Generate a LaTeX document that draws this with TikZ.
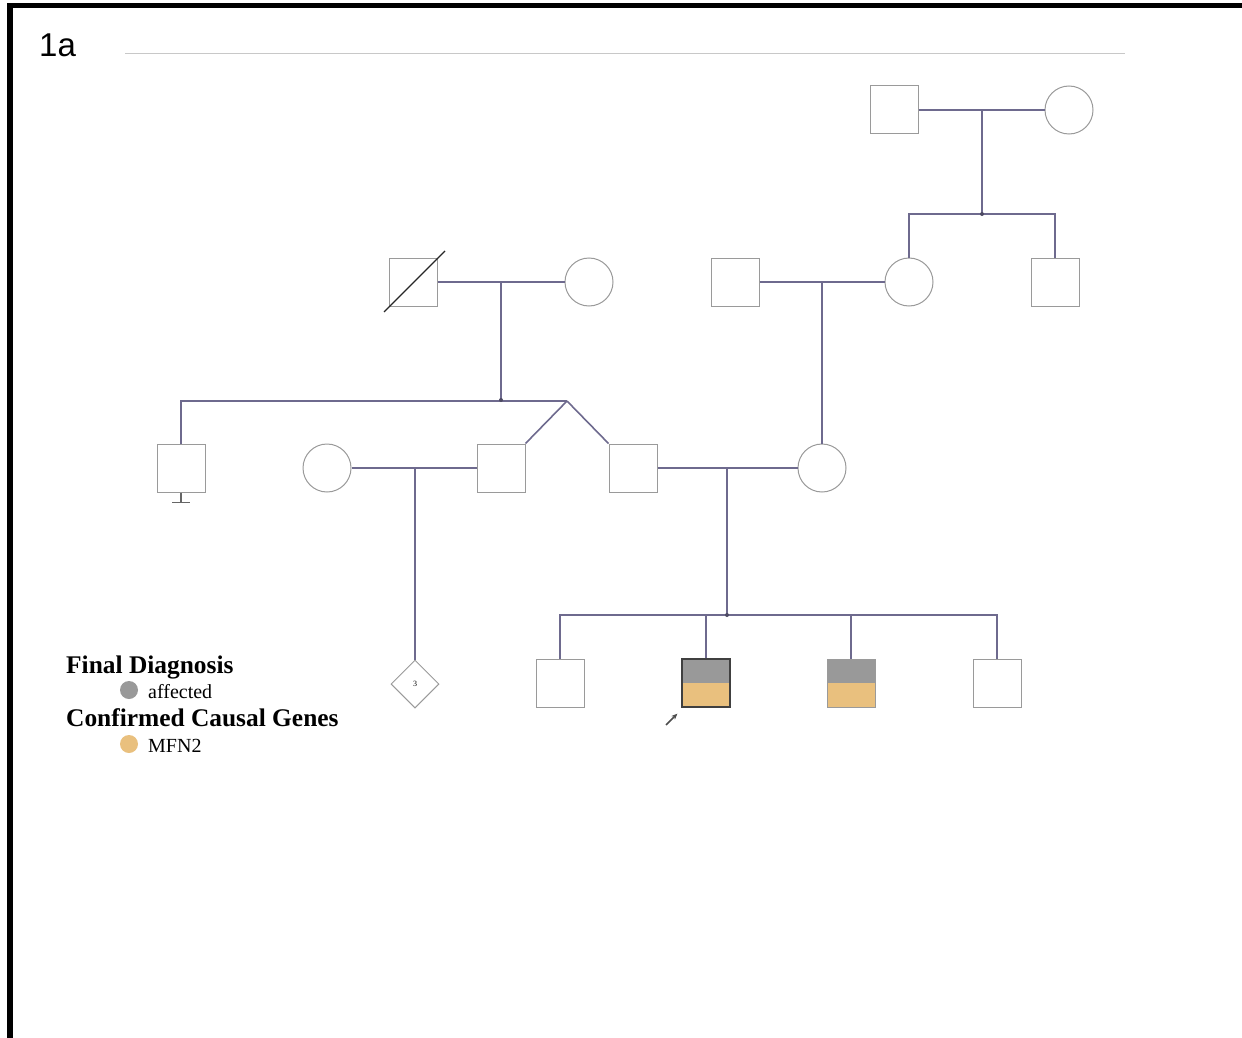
\documentclass[tikz,border=0pt]{standalone}
\usepackage{fontspec}
\setmainfont{Liberation Serif}
\newfontfamily\panelfont{Liberation Sans}
\usetikzlibrary{positioning,shapes.geometric,arrows.meta,calc}
\definecolor{linepurple}{HTML}{6E6A8E}
\definecolor{shapegray}{HTML}{9A9A9A}
\definecolor{affgray}{HTML}{999999}
\definecolor{mfnorange}{HTML}{E9C07E}
\definecolor{rulegray}{HTML}{C8C8C8}

\begin{document}
\begin{tikzpicture}[
    x=1pt, y=-1pt,
    male/.style={rectangle, draw=shapegray, line width=1pt, minimum size=48pt,
                 inner sep=0pt, fill=white},
    female/.style={circle, draw=shapegray, line width=1pt, minimum size=48pt,
                   inner sep=0pt, fill=white},
    unknown/.style={diamond, draw=shapegray, line width=1pt, minimum width=48pt,
                    minimum height=48pt, inner sep=0pt, fill=white,
                    font=\fontsize{8}{8}\selectfont},
    affected/.style={male, draw=black!75, line width=1.3pt,
                     path picture={
                       \fill[affgray] (path picture bounding box.north west)
                         rectangle (path picture bounding box.east);
                       \fill[mfnorange] (path picture bounding box.west)
                         rectangle (path picture bounding box.south east);}},
    link/.style={draw=linepurple, line width=1.6pt},
    junction/.style={fill=linepurple!70!black},
    legtitle/.style={font=\fontsize{25.4}{25.4}\selectfont\bfseries, anchor=base west,
                     inner sep=0pt},
    legitem/.style={font=\fontsize{20}{20}\selectfont, anchor=base west, inner sep=0pt},
]
\useasboundingbox (0,0) rectangle (1242,1038);

% ── Frame and heading ───────────────────────────────────────────
\draw[line width=5.5pt, line join=miter] (10,1040) -- (10,5.5) -- (1245,5.5);
\draw[rulegray, line width=1pt] (125,54) -- (1125,54);
\node[font=\panelfont\fontsize{33}{33}\selectfont, anchor=base west, inner sep=0pt]
  (panel) at (39,57) {1a};

% ── Generation I ────────────────────────────────────────────────
\node[male]   (g1m) at (894,110) {};
\node[female] (g1f) at (1069,110) {};

% ── Generation II ───────────────────────────────────────────────
\node[male]   (g2m1) at (413,282) {};
\node[female] (g2f1) at (589,282) {};
\node[male]   (g2m2) at (735,282) {};
\node[female] (g2f2) at (909,282) {};
\node[male]   (g2m3) at (1055,282) {};
\draw[line width=1.3pt, black!85] (384,312) -- (445,251);

% ── Generation III ──────────────────────────────────────────────
\node[male]   (g3m1) at (181,468) {};
\node[female] (g3f1) at (327,468) {};
\node[male]   (g3m2) at (501,468) {};
\node[male]   (g3m3) at (633,468) {};
\node[female] (g3f2) at (822,468) {};
\node[unknown] (g3u) at (415,684) {3};

% ── Generation IV ───────────────────────────────────────────────
\node[male]     (g4m1) at (560,683) {};
\node[affected] (g4m2) at (706,683) {};
\node[affected, draw=shapegray, line width=1pt] (g4m3) at (851,683) {};
\node[male]     (g4m4) at (997,683) {};

% ── Couples and sibships ────────────────────────────────────────
\coordinate (u1) at (982,110);
\coordinate (s1) at (982,214);
\draw[link] (g1m.east) -- (g1f.west);
\draw[link] (u1) -- (s1);
\draw[link] (g2f2.north) |- (s1) -| (g2m3.north);

\coordinate (u2) at (501,282);
\coordinate (s2) at (501,400);
\coordinate (tw) at (567,401);
\draw[link] (g2m1.east) -- (g2f1.west);
\draw[link] (u2) -- (s2);
\draw[link] (g3m1.north) |- (tw);
\draw[link] (tw) -- (g3m2.north east);
\draw[link] (tw) -- (g3m3.north west);

\coordinate (u3) at (822,282);
\draw[link] (g2m2.east) -- (g2f2.west);
\draw[link] (u3) -- (g3f2.north);

\coordinate (u4) at (415,468);
\draw[link] (g3f1.east) -- (g3m2.west);
\draw[link] (u4) -- (g3u.north);

\coordinate (u5) at (727,468);
\coordinate (s5) at (727,615);
\draw[link] (g3m3.east) -- (g3f2.west);
\draw[link] (u5) -- (s5);
\draw[link] (g4m1.north) |- (s5) -| (g4m4.north);
\draw[link] (g4m2.north) -- (g4m2.north |- s5);
\draw[link] (g4m3.north) -- (g4m3.north |- s5);

\foreach \j in {s1,s2,s5}{
  \fill[junction] (\j) circle (2pt);
}

% ── No children stub ────────────────────────────────────────────
\draw[black!60, line width=1.3pt] (g3m1.south) -- ++(0,10) coordinate (nc);
\draw[black!60, line width=1.8pt] ($(nc)+(-9,0)$) -- ($(nc)+(9,0)$);

% ── Proband arrow ───────────────────────────────────────────────
\coordinate (pa) at (666,725);
\draw[black!70, line width=1.6pt, -{Stealth[length=6pt, width=5pt]}]
  (pa) -- ($(g4m2.south west)+(-4,6)$);

% ── Legend ──────────────────────────────────────────────────────
\node[legtitle] (lt1) at (66,673) {Final Diagnosis};
\fill[affgray] (129,690) circle (9pt);
\node[legitem] (li1) at (148,698) {affected};
\node[legtitle] (lt2) at (66,726) {Confirmed Causal Genes};
\fill[mfnorange] (129,744) circle (9pt);
\node[legitem] (li2) at (148,752) {MFN2};

\end{tikzpicture}
\end{document}
